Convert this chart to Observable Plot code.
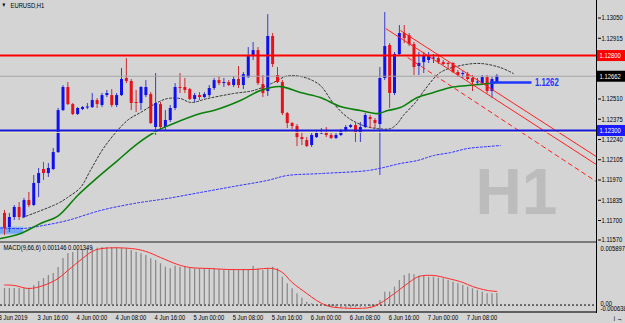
<!DOCTYPE html>
<html><head><meta charset="utf-8">
<script src="https://cdn.jsdelivr.net/npm/d3@7"></script>
<script src="https://cdn.jsdelivr.net/npm/@observablehq/plot@0.6"></script>
<style>
html,body{margin:0;padding:0;background:#d4d4d4;}
#wrap{position:relative;width:625px;height:323px;overflow:hidden;background:#d4d4d4;font-family:"Liberation Sans",Arial,sans-serif;}
#wrap svg{position:absolute;left:0;top:0;overflow:hidden;}
.sep{position:absolute;left:0;top:241px;width:597px;height:2px;background:#7a7a7a;}
.bot{position:absolute;left:0;top:311px;width:597px;height:2px;background:#606060;}
.vax{position:absolute;left:596px;top:0;width:1px;height:313px;background:#000;}
</style></head><body><div id="wrap"></div>
<script>
// ---------- data ----------
const symbolTitle = "EURUSD,H1";
const macdTitle = "MACD(9,66,6) 0.001146 0.001349";
const openP = [1.11747,1.11653,1.11720,1.11787,1.11720,1.11833,1.11800,1.11947,1.12040,1.12013,
1.12040,1.12153,1.12433,1.12587,1.12473,1.12407,1.12440,1.12450,1.12453,1.12500,
1.12467,1.12533,1.12533,1.12467,1.12533,1.12647,1.12627,1.12487,1.12480,1.12533,
1.12540,1.12320,1.12473,1.12320,1.12367,1.12447,1.12587,1.12587,1.12573,1.12507,
1.12533,1.12520,1.12533,1.12580,1.12633,1.12613,1.12620,1.12600,1.12640,1.12600,
1.12653,1.12793,1.12833,1.12607,1.12560,1.12927,1.12667,1.12620,1.12413,1.12347,
1.12327,1.12253,1.12233,1.12200,1.12253,1.12277,1.12287,1.12267,1.12247,1.12267,
1.12300,1.12320,1.12333,1.12280,1.12320,1.12387,1.12367,1.12340,1.12647,1.12867,
1.12547,1.12807,1.12947,1.12933,1.12873,1.12727,1.12753,1.12767,1.12777,1.12780,
1.12753,1.12747,1.12747,1.12687,1.12673,1.12673,1.12647,1.12617,1.12613,1.12653,
1.12560,1.12620];
const highP = [1.11767,1.11747,1.11800,1.11820,1.11847,1.11887,1.12000,1.12047,1.12087,1.12080,
1.12180,1.12447,1.12600,1.12620,1.12480,1.12453,1.12460,1.12480,1.12547,1.12513,
1.12547,1.12567,1.12573,1.12547,1.12713,1.12780,1.12640,1.12567,1.12593,1.12633,
1.12553,1.12680,1.12487,1.12433,1.12467,1.12613,1.12680,1.12647,1.12580,1.12547,
1.12553,1.12553,1.12600,1.12647,1.12660,1.12647,1.12633,1.12660,1.12727,1.12687,
1.12853,1.12887,1.12853,1.12667,1.13073,1.12947,1.12720,1.12633,1.12420,1.12353,
1.12340,1.12287,1.12253,1.12280,1.12300,1.12313,1.12320,1.12280,1.12280,1.12307,
1.12333,1.12340,1.12347,1.12353,1.12413,1.12400,1.12380,1.12720,1.13087,1.12880,
1.12820,1.13000,1.13000,1.12947,1.12887,1.12820,1.12820,1.12820,1.12807,1.12793,
1.12767,1.12753,1.12753,1.12700,1.12693,1.12687,1.12667,1.12647,1.12667,1.12667,
1.12653,1.12673];
const lowP = [1.11600,1.11620,1.11700,1.11700,1.11713,1.11787,1.11793,1.11853,1.11967,1.11987,
1.12033,1.12147,1.12427,1.12467,1.12400,1.12400,1.12433,1.12440,1.12447,1.12447,
1.12453,1.12520,1.12453,1.12453,1.12527,1.12613,1.12433,1.12420,1.12433,1.12520,
1.12340,1.12267,1.12307,1.12300,1.12353,1.12433,1.12547,1.12547,1.12500,1.12487,
1.12500,1.12513,1.12520,1.12567,1.12600,1.12587,1.12593,1.12587,1.12580,1.12573,
1.12647,1.12767,1.12600,1.12520,1.12527,1.12720,1.12613,1.12400,1.12313,1.12307,
1.12193,1.12200,1.12187,1.12187,1.12247,1.12273,1.12253,1.12240,1.12240,1.12260,
1.12287,1.12313,1.12220,1.12220,1.12313,1.12313,1.12313,1.12000,1.12633,1.12447,
1.12533,1.12800,1.12880,1.12860,1.12667,1.12667,1.12680,1.12747,1.12747,1.12740,
1.12733,1.12713,1.12680,1.12653,1.12647,1.12633,1.12560,1.12600,1.12600,1.12547,
1.12513,1.12613];
const closeP = [1.11647,1.11720,1.11787,1.11720,1.11833,1.11800,1.11947,1.12013,1.12013,1.12047,
1.12153,1.12433,1.12587,1.12473,1.12407,1.12447,1.12453,1.12457,1.12500,1.12473,
1.12533,1.12547,1.12467,1.12533,1.12640,1.12627,1.12480,1.12480,1.12587,1.12587,
1.12347,1.12480,1.12320,1.12367,1.12447,1.12587,1.12580,1.12567,1.12507,1.12533,
1.12520,1.12540,1.12580,1.12633,1.12613,1.12620,1.12600,1.12640,1.12600,1.12673,
1.12793,1.12833,1.12613,1.12547,1.12927,1.12740,1.12620,1.12413,1.12347,1.12327,
1.12253,1.12240,1.12193,1.12267,1.12280,1.12283,1.12267,1.12247,1.12267,1.12300,
1.12320,1.12333,1.12280,1.12320,1.12400,1.12373,1.12347,1.12647,1.12860,1.12547,
1.12807,1.12947,1.12913,1.12873,1.12720,1.12747,1.12800,1.12793,1.12783,1.12753,
1.12740,1.12740,1.12687,1.12667,1.12680,1.12640,1.12620,1.12623,1.12653,1.12560,
1.12640,1.12662];

// moving averages (bar index, price)
const maGreenBar = [-0.8,3.3,7.4,11.1,15,19.1,23.2,27.3,31.4,34.7,40.2,42.9,48.4,52.5,56.6,60.7,64.8,68.9,73,76.5,78.6,81.2,84.7,88,91.5,95,99.1,101];
const maGreenVal = [1.11580,1.11613,1.11680,1.11733,1.11867,1.11987,1.12100,1.12213,1.12300,1.12347,1.12413,1.12433,1.12500,1.12567,1.12593,1.12553,1.12520,1.12460,1.12433,1.12413,1.12433,1.12453,1.12520,1.12553,1.12587,1.12600,1.12613,1.12620];
const maBlackBar = [3.7,10.9,12.9,15.6,17.6,20.7,25.2,27.9,31.4,33.4,36.1,38.2,41.6,47,51.1,55.2,57.6,59.3,62.2,64.8,67.5,70.4,73.6,76.5,79.2,80.6,81.8,84.3,86.4,89.4,93.5,97.6,101.7,104.4];
const maBlackVal = [1.11720,1.11813,1.11853,1.11920,1.12033,1.12200,1.12367,1.12420,1.12487,1.12513,1.12513,1.12487,1.12513,1.12547,1.12567,1.12620,1.12660,1.12667,1.12647,1.12600,1.12480,1.12387,1.12333,1.12313,1.12313,1.12347,1.12400,1.12487,1.12580,1.12687,1.12733,1.12747,1.12720,1.12680];
const maBlueBar = [-0.8,3.9,8,12.9,19.7,26.5,33.4,40.2,47,53.9,58,64.8,74.5,77.7,81.2,84.7,88,91.5,95,99.1,101.7];
const maBlueVal = [1.11650,1.11647,1.11667,1.11700,1.11767,1.11813,1.11847,1.11887,1.11927,1.11967,1.12000,1.12013,1.12033,1.12053,1.12080,1.12100,1.12133,1.12153,1.12180,1.12193,1.12200];

// channel lines (start bar, start price, end bar, end price)
const chanBar1 = [78.2, 81.2, 82.7];
const chanP1 = [1.12980, 1.12967, 1.12787];
const chanBar2 = [121.7, 121.7, 121.7];
const chanP2 = [1.12067, 1.12120, 1.11953];
const chanDash = [null, null, "4,3"];

// horizontal levels
const levelRed = 1.12800, levelBid = 1.12662, levelBlue = 1.12300;
const markLevel = 1.12620, markLabel = "1.1262", markBar1 = 99.7, markBar2 = 108.2;
const boxBar = [-1.5, 3.9], boxP = [1.11607, 1.11653];

const yTicks = [1.13050,1.12915,1.12780,1.12645,1.12510,1.12375,1.12240,1.12105,1.11970,1.11835,1.11700,1.11570];
const xTickBars = [-1,7,15,23,31,39,47,55,63,71,79,87,95];
const xTickLabels = ["3 Jun 2019","3 Jun 16:00","4 Jun 00:00","4 Jun 08:00","4 Jun 16:00","5 Jun 00:00","5 Jun 08:00","5 Jun 16:00","6 Jun 00:00","6 Jun 08:00","6 Jun 16:00","7 Jun 00:00","7 Jun 08:00"];

const macdHist = [0.00164,0.00164,0.00164,0.00164,0.00164,0.00167,0.00194,0.00234,0.00263,0.00293,
0.00313,0.00372,0.00461,0.00511,0.00521,0.00541,0.00550,0.00560,0.00563,0.00563,
0.00570,0.00570,0.00570,0.00567,0.00563,0.00557,0.00541,0.00524,0.00508,0.00491,
0.00458,0.00442,0.00409,0.00375,0.00359,0.00385,0.00375,0.00375,0.00365,0.00359,
0.00359,0.00359,0.00359,0.00359,0.00352,0.00343,0.00343,0.00343,0.00343,0.00352,
0.00343,0.00385,0.00359,0.00343,0.00359,0.00375,0.00359,0.00276,0.00211,0.00161,
0.00112,0.00068,0.00029,0.00013,-0.00004,-0.00010,-0.00015,-0.00020,-0.00025,-0.00028,
-0.00028,-0.00028,-0.00025,-0.00025,-0.00022,-0.00020,-0.00015,0.00046,0.00128,0.00128,
0.00177,0.00244,0.00293,0.00310,0.00300,0.00286,0.00293,0.00276,0.00276,0.00266,
0.00260,0.00244,0.00227,0.00211,0.00194,0.00177,0.00161,0.00145,0.00128,0.00112,
0.00112,0.001146];
const sigBar = [0,2,5,8,11,13,16,18,20,26,29,32,35.5,38,42,46,51,55,57,59,62,64,66,68,75,77,80,83,85,88,91,94,96,99,101];
const sigVal = [0.00199,0.00194,0.00164,0.00194,0.00263,0.00343,0.00461,0.00531,0.00560,0.00560,0.00531,0.00471,0.00402,0.00372,0.00362,0.00352,0.00352,0.00362,0.00323,0.00224,0.00115,0.00046,-0.00004,-0.00024,-0.00024,0.00016,0.00115,0.00224,0.00283,0.00293,0.00263,0.00224,0.00184,0.00145,0.001349];
const macdMax = 0.005897, macdMin = -0.000638;

// ---------- build ----------
const W = 625, H = 323, AXIS_W = 28, MAIN_BOTTOM = 241;
const xDomain = [-0.82, 121.64];
const yDomain = [1.11560, 1.13167];
const FONT = '"Liberation Sans",Arial,sans-serif';
const BULL = "#1010ee", BEAR = "#e8101a";
const BULL_W = "#3a3ad0", BEAR_W = "#d02830";
const fmt5 = d3.format(".5f");

const candles = openP.map((o, i) => ({i, open: o, high: highP[i], low: lowP[i], close: closeP[i], up: closeP[i] >= o}));
const pts = (bx, vy) => bx.map((b, k) => ({i: b, p: vy[k]}));
const chans = chanBar1.map((b, k) => ({x1: b, y1: chanP1[k], x2: chanBar2[k], y2: chanP2[k], dash: chanDash[k]}));
const boxes = [
  {p: levelRed, fill: "#ff0000"},
  {p: levelBid, fill: "#000000"},
  {p: levelBlue, fill: "#1a1aff"}
];

const main = Plot.plot({
  width: W, height: H,
  marginLeft: 0, marginRight: AXIS_W, marginTop: 0, marginBottom: H - MAIN_BOTTOM,
  x: {domain: xDomain, axis: null},
  y: {domain: yDomain},
  style: {background: "transparent", fontFamily: FONT},
  marks: [
    Plot.text(["H1"], {frameAnchor: "bottom-right", dx: -81, dy: -48, textAnchor: "middle", lineAnchor: "middle", fontSize: 64, fontWeight: "bold", fill: "#bcbcbc"}),
    Plot.rect([{}], {x1: () => boxBar[0], x2: () => boxBar[1], y1: () => boxP[0], y2: () => boxP[1], fill: "#74a6f4", stroke: "#9cc0f8", clip: true}),
    Plot.line(pts(maBlueBar, maBlueVal), {x: "i", y: "p", stroke: "#2a2aff", strokeWidth: 1, strokeDasharray: "2,2", curve: "catmull-rom", clip: true}),
    Plot.line(pts(maBlackBar, maBlackVal), {x: "i", y: "p", stroke: "#303030", strokeWidth: 1, strokeDasharray: "2,2", curve: "catmull-rom", clip: true}),
    Plot.ruleX(candles, {x: "i", y1: "low", y2: "high", stroke: d => d.up ? BULL_W : BEAR_W, strokeWidth: 1}),
    Plot.ruleX(candles, {x: "i", y1: "open", y2: "close", stroke: d => d.up ? BULL : BEAR, strokeWidth: 3}),
    Plot.line(pts(maGreenBar, maGreenVal), {x: "i", y: "p", stroke: "#0a800a", strokeWidth: 1.6, curve: "catmull-rom", clip: true}),
    Plot.link(chans.filter(d => !d.dash), {x1: "x1", y1: "y1", x2: "x2", y2: "y2", stroke: "#ff2020", strokeWidth: 1, clip: true}),
    Plot.link(chans.filter(d => d.dash), {x1: "x1", y1: "y1", x2: "x2", y2: "y2", stroke: "#ff2020", strokeWidth: 1, strokeDasharray: "5,3", clip: true}),
    Plot.ruleY([levelBid], {stroke: "#a4a4a4", strokeWidth: 1}),
    Plot.ruleY([levelRed], {stroke: "#ff0000", strokeWidth: 2}),
    Plot.ruleY([levelBlue], {stroke: "#f2eeb0", strokeWidth: 1, dy: 1.8}),
    Plot.ruleY([levelBlue], {stroke: "#1818e0", strokeWidth: 2.2}),
    Plot.ruleY([markLevel], {x1: () => markBar1, x2: () => markBar2, stroke: "#1f36ff", strokeWidth: 2.5}),
    Plot.text([markLabel], {x: () => markBar2, y: () => markLevel, textAnchor: "start", dx: 3, fill: "#1f36ff", fontWeight: "bold", fontSize: 10.5}),
    Plot.text([symbolTitle], {frameAnchor: "top-left", dx: 10, dy: 2, lineAnchor: "top", fontSize: 7.5, fill: "#000"}),
    Plot.text(["▼"], {frameAnchor: "top-left", dx: 1, dy: 2, lineAnchor: "top", fontSize: 6, fill: "#000"}),
    Plot.axisY({anchor: "right", ticks: yTicks, tickFormat: fmt5, tickSize: 3, tickPadding: 1, fontSize: 7.5, stroke: "#000", fill: "#000"}),
    Plot.ruleY(boxes, {y: "p", x1: () => xDomain[1], x2: () => xDomain[1] + 6, stroke: "fill", strokeWidth: 11, clip: false}),
    Plot.text(boxes, {x: () => xDomain[1], y: "p", text: d => fmt5(d.p), textAnchor: "start", dx: 2, fill: "#fff", fontSize: 7.5})
  ]
});

const bars = macdHist.map((v, i) => ({i, v}));
const macd = Plot.plot({
  width: W, height: H,
  marginLeft: 0, marginRight: AXIS_W, marginTop: 245, marginBottom: 12,
  x: {domain: xDomain},
  y: {domain: [macdMin, macdMax], axis: null},
  style: {background: "transparent", fontFamily: FONT},
  marks: [
    Plot.ruleY([0], {stroke: "#000", strokeDasharray: "2,2", strokeWidth: 1}),
    Plot.ruleX(bars, {x: "i", y1: 0, y2: "v", stroke: "#8a8a8a", strokeWidth: 1.3}),
    Plot.line(pts(sigBar, sigVal), {x: "i", y: "p", stroke: "#ff2828", strokeWidth: 1, curve: "catmull-rom"}),
    Plot.text([macdTitle], {frameAnchor: "top-left", dx: 3, dy: -1, lineAnchor: "top", fontSize: 7.5, fill: "#000"}),
    Plot.text([macdMax], {x: () => xDomain[1], y: d => d, text: d => d.toFixed(6), textAnchor: "start", dx: 3, dy: 3, fontSize: 7.5, fill: "#000", clip: false}),
    Plot.text([macdMin], {x: () => xDomain[1], y: d => d, text: d => d.toFixed(6), textAnchor: "start", dx: 3, dy: -3, fontSize: 7.5, fill: "#000", clip: false}),
    Plot.text([0], {x: () => xDomain[1], y: d => d, text: () => "0.00", textAnchor: "start", dx: 3, dy: -1, fontSize: 7.5, fill: "#000", clip: false}),
    Plot.axisX({anchor: "bottom", ticks: xTickBars, tickFormat: d => xTickLabels[xTickBars.indexOf(d)], tickSize: 2, tickPadding: 1, textAnchor: "start", dx: -1, fontSize: 7.5, stroke: "#000", fill: "#000"})
  ]
});

const wrap = document.getElementById("wrap");
wrap.append(macd, main);
for (const c of ["sep", "bot", "vax"]) { const d = document.createElement("div"); d.className = c; wrap.append(d); }

// the reference's small labels are horizontally condensed; squeeze glyphs to match
for (const t of wrap.querySelectorAll("svg text")) {
  const fs = parseFloat(getComputedStyle(t).fontSize);
  if (fs > 30) continue;
  const bold = getComputedStyle(t).fontWeight >= 600 || getComputedStyle(t).fontWeight === "bold";
  const len = t.getComputedTextLength();
  if (!len) continue;
  t.setAttribute("textLength", (len * (bold ? 0.74 : 0.78)).toFixed(2));
  t.setAttribute("lengthAdjust", "spacingAndGlyphs");
}
</script></body></html>
